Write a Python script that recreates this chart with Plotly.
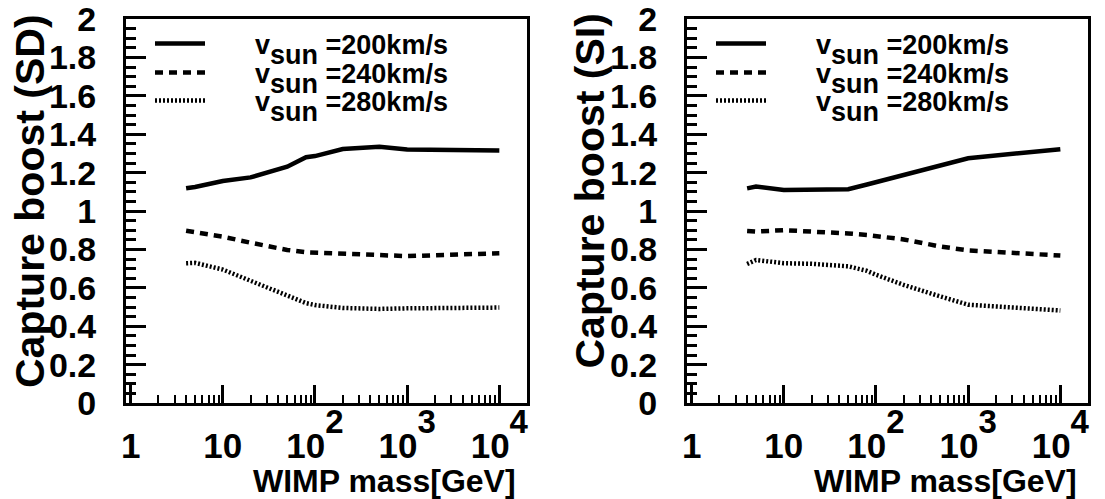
import plotly.graph_objects as go

# WIMP mass grid [GeV]
mass = [4, 5, 10, 20, 50, 80, 100, 200, 500, 1000, 10000]

# Spin-dependent capture boost
sd_200 = [1.118, 1.125, 1.156, 1.175, 1.231, 1.280, 1.286, 1.323, 1.335, 1.320, 1.315]
sd_240 = [0.897, 0.890, 0.866, 0.835, 0.797, 0.785, 0.783, 0.780, 0.770, 0.765, 0.780]
sd_280 = [0.728, 0.730, 0.695, 0.637, 0.555, 0.520, 0.510, 0.495, 0.490, 0.493, 0.497]

# Spin-independent capture boost
si_200 = [1.118, 1.127, 1.110, 1.112, 1.113, 1.138, 1.150, 1.187, 1.237, 1.275, 1.322]
si_240 = [0.896, 0.893, 0.900, 0.895, 0.883, 0.875, 0.868, 0.852, 0.815, 0.795, 0.768]
si_280 = [0.724, 0.745, 0.728, 0.725, 0.712, 0.688, 0.668, 0.615, 0.555, 0.512, 0.482]

speeds = ["200", "240", "280"]
PAD = "&nbsp;" * 6
series_labels = [PAD + 'v<sub><sub><span style="font-size:27px">sun</span></sub></sub>'
                 '&nbsp;=%skm/s' % s for s in speeds]
dash_styles = ["solid", "8px,6px", "2px,2px"]

x_tickvals = [1, 10, 100, 1000, 10000]
EXP = '<sup><sup><span style="font-size:33px">{}</span></sup></sup>'
x_ticktext = ["1", "10", "10" + EXP.format(2), "10" + EXP.format(3), "10" + EXP.format(4)]
x_minor = [k * 10 ** e for e in range(0, 5) for k in range(2, 10) if k * 10 ** e < 20000]
y_tickvals = [0, 0.2, 0.4, 0.6, 0.8, 1, 1.2, 1.4, 1.6, 1.8, 2]
y_ticktext = ["0", "0.2", "0.4", "0.6", "0.8", "1", "1.2", "1.4", "1.6", "1.8", "2"]

FONT = "Liberation Sans"
W, H = 1105, 499
legend_rows = [44, 73, 101]  # vertical pixel centres of the legend rows

fig = go.Figure()
panels = [([sd_200, sd_240, sd_280], "x", "y", 0), ([si_200, si_240, si_280], "x2", "y2", 3)]
for series, xa, ya, off in panels:
    for i, (ys, lab, d) in enumerate(zip(series, series_labels, dash_styles)):
        lg = "legend" if off + i == 0 else "legend%d" % (off + i + 1)
        fig.add_trace(go.Scatter(x=mass, y=ys, mode="lines", name=lab,
                                 line=dict(color="black", width=4.5, dash=d),
                                 xaxis=xa, yaxis=ya, legend=lg, showlegend=True))


def xaxis(dom, anchor):
    return dict(domain=dom, anchor=anchor, type="log", range=[-0.05, 4.30],
                showline=True, linewidth=3, linecolor="black", mirror=True,
                ticks="inside", ticklen=18, tickwidth=3, tickcolor="black",
                tickmode="array", tickvals=x_tickvals, ticktext=x_ticktext,
                tickfont=dict(family=FONT, size=35, color="black", weight="bold"),
                minor=dict(ticks="inside", ticklen=8, tickwidth=2, tickcolor="black",
                           tickmode="array", tickvals=x_minor),
                ticklabelstandoff=10, ticklabeloverflow="allow",
                showgrid=False, zeroline=False, automargin=False)


def yaxis(dom, anchor):
    return dict(domain=dom, anchor=anchor, range=[0, 2],
                tickmode="array", tickvals=y_tickvals, ticktext=y_ticktext,
                showline=True, linewidth=3, linecolor="black", mirror=True,
                ticks="inside", ticklen=20, tickwidth=3, tickcolor="black",
                tickfont=dict(family=FONT, size=34, color="black", weight="bold"),
                minor=dict(ticks="inside", ticklen=10, tickwidth=2.5, tickcolor="black",
                           tickmode="linear", dtick=0.05, tick0=0),
                ticklabelstandoff=20, ticklabeloverflow="allow",
                showgrid=False, zeroline=False, automargin=False)


def legend(xpix, ypix):
    return dict(x=xpix / W, y=1 - ypix / H, xanchor="left", yanchor="middle",
                bgcolor="rgba(0,0,0,0)", itemwidth=50, tracegroupgap=0,
                font=dict(family=FONT, size=27, color="black", weight="bold"))


ydom = [1 - 403 / H, 1 - 19 / H]
layout = dict(
    width=W, height=H, margin=dict(l=0, r=0, t=0, b=0),
    paper_bgcolor="white", plot_bgcolor="white", showlegend=True,
    font=dict(family=FONT, color="black"),
    xaxis=xaxis([126 / W, 527 / W], "y"),
    yaxis=yaxis(ydom, "x"),
    xaxis2=xaxis([687 / W, 1088 / W], "y2"),
    yaxis2=yaxis(ydom, "x2"),
    annotations=[
        dict(text="WIMP mass[GeV]", xref="paper", yref="paper", x=518 / W, y=1 - 481 / H,
             xanchor="right", yanchor="middle", showarrow=False,
             font=dict(family=FONT, size=32, color="black", weight="bold")),
        dict(text="WIMP mass[GeV]", xref="paper", yref="paper", x=1079 / W, y=1 - 481 / H,
             xanchor="right", yanchor="middle", showarrow=False,
             font=dict(family=FONT, size=32, color="black", weight="bold")),
        dict(text="Capture boost (SD)", xref="paper", yref="paper", x=30 / W, y=1 - 12 / H,
             xanchor="center", yanchor="top", textangle=-90, showarrow=False,
             font=dict(family=FONT, size=41, color="black", weight="bold")),
        dict(text="Capture boost (SI)", xref="paper", yref="paper", x=589 / W, y=1 - 12 / H,
             xanchor="center", yanchor="top", textangle=-90, showarrow=False,
             font=dict(family=FONT, size=41, color="black", weight="bold")),
    ],
)
for k in range(6):
    name = "legend" if k == 0 else "legend%d" % (k + 1)
    xpix = 150 if k < 3 else 711
    layout[name] = legend(xpix, legend_rows[k % 3])
fig.update_layout(**layout)

fig.write_html("out.html")
